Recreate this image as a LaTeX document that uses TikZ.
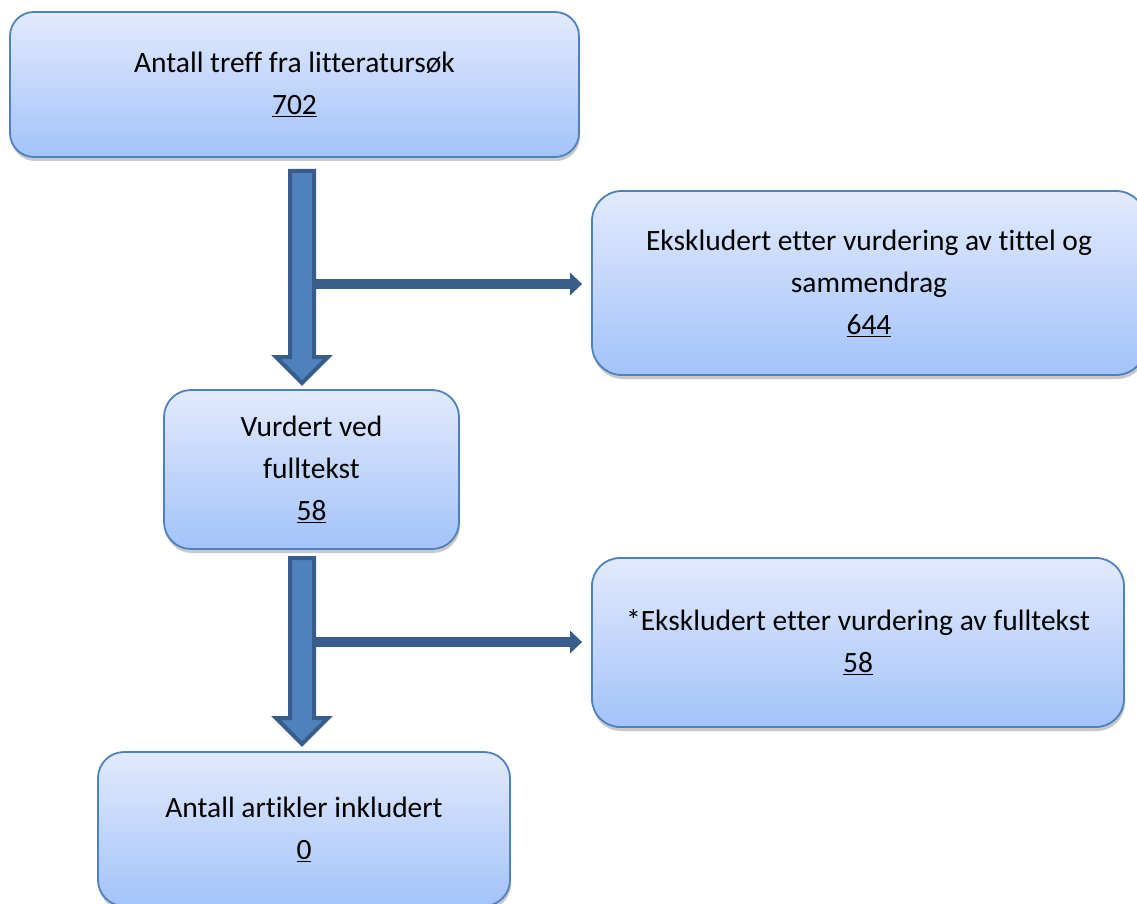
\documentclass[tikz,border=0pt]{standalone}
\usepackage{fontspec}
\setmainfont[Ligatures=NoCommon]{Carlito}
\usetikzlibrary{arrows.meta,shadows,calc}
\definecolor{boxborder}{RGB}{79,129,189}
\definecolor{boxtop}{RGB}{226,234,252}
\definecolor{boxbottom}{RGB}{163,195,250}
\definecolor{arrowfill}{RGB}{79,129,189}
\definecolor{arrowline}{RGB}{56,93,138}
\begin{document}
\begin{tikzpicture}[x=1pt,y=1pt,
  flowbox/.style={draw=boxborder, line width=1.8pt, top color=boxtop, bottom color=boxbottom,
    align=center, inner sep=0pt, font=\fontsize{29.5}{42}\selectfont,
    drop shadow={shadow xshift=1pt, shadow yshift=-4pt, opacity=0.3, fill=black!70}},
  bigarrow/.style={draw=arrowline, fill=arrowfill, line width=4pt, line join=miter},
  thinarrow/.style={draw=arrowline, line width=10pt, -{Triangle[length=12pt,width=22pt]}, shorten >=9pt}]
\useasboundingbox (0,0) rectangle (1137,-904);

\node[flowbox, minimum width=569pt, minimum height=145pt, rounded corners=24pt] (b1) at (294.5,-84.5)
  {Antall treff fra litteraturs\o k\\\underline{702}};
\node[flowbox, minimum width=554pt, minimum height=184pt, rounded corners=30pt] (b2) at (869,-283)
  {Ekskludert etter vurdering av tittel og\\sammendrag\\\underline{644}};
\node[flowbox, minimum width=295pt, minimum height=159pt, rounded corners=27pt] (b3) at (311.5,-469.5)
  {Vurdert ved\\fulltekst\\\underline{58}};
\node[flowbox, minimum width=532pt, minimum height=169pt, rounded corners=28pt] (b4) at (858,-642.5)
  {*Ekskludert etter vurdering av fulltekst\\\underline{58}};
\node[flowbox, minimum width=412pt, minimum height=154pt, rounded corners=26pt] (b5) at (304,-829)
  {Antall artikler inkludert\\\underline{0}};

% first step
\coordinate (s1) at (302,-171);
\coordinate (t1) at (302,-383);
\coordinate (j1) at (314,-284);
\draw[thinarrow] (j1) -- (j1 -| b2.west);
\draw[bigarrow] ($(s1)+(-12,0)$) -- ($(s1)+(12,0)$) -- ($(t1)+(12,26)$) -- ($(t1)+(26,26)$)
  -- (t1) -- ($(t1)+(-26,26)$) -- ($(t1)+(-12,26)$) -- cycle;

% second step
\coordinate (s2) at (302,-558);
\coordinate (t2) at (302,-744);
\coordinate (j2) at (314,-642);
\draw[thinarrow] (j2) -- (j2 -| b4.west);
\draw[bigarrow] ($(s2)+(-12,0)$) -- ($(s2)+(12,0)$) -- ($(t2)+(12,26)$) -- ($(t2)+(26,26)$)
  -- (t2) -- ($(t2)+(-26,26)$) -- ($(t2)+(-12,26)$) -- cycle;
\end{tikzpicture}
\end{document}
